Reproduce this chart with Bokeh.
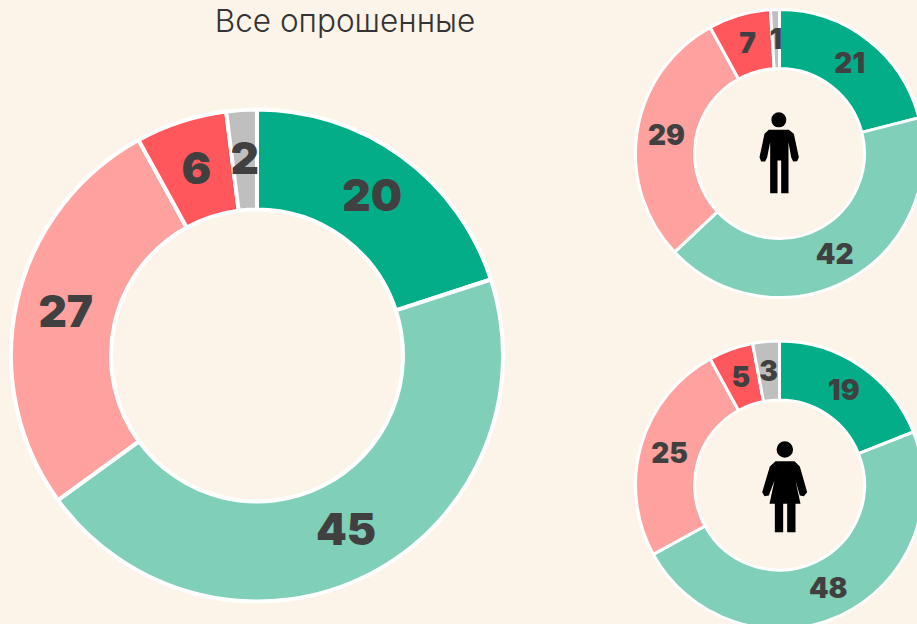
import numpy as np
from bokeh.embed import file_html
from bokeh.resources import INLINE
from bokeh.plotting import figure
from bokeh.models import Range1d, ColumnDataSource
from bokeh.core.properties import value

title = "Все опрошенные"
answers = ["a", "b", "c", "d", "e"]
all_values = [20, 45, 27, 6, 2]
men_values = [21, 42, 29, 7, 1]
women_values = [19, 48, 25, 5, 3]
colors = ["#02AD87", "#7FCFB9", "#FFA29F", "#FF575B", "#BFBFBF"]
BG = "#FDF4E9"
INK = "#404040"
BLACK_FONT = "Inter Black"

W, H = 917, 624
p = figure(width=W, height=H, output_backend="svg", toolbar_location=None,
           x_range=Range1d(0, W), y_range=Range1d(-H, 0),
           background_fill_color=BG, border_fill_color=BG,
           min_border=0, outline_line_color=None)
p.axis.visible = False
p.grid.visible = False


def donut(cx, cy, r_out, r_in, vals, lw, fs, dy):
    v = np.array(vals, dtype=float)
    edges = np.concatenate([[0], np.cumsum(v)]) / v.sum()
    ang = np.pi / 2 - 2 * np.pi * edges
    mid = (ang[:-1] + ang[1:]) / 2
    rl = (r_out + r_in) / 2
    src = ColumnDataSource(dict(
        start=ang[1:], end=ang[:-1], color=colors,
        lx=cx + rl * np.cos(mid), ly=-cy + rl * np.sin(mid) + dy,
        txt=[str(x) for x in vals]))
    p.annular_wedge(x=cx, y=-cy, inner_radius=r_in, outer_radius=r_out,
                    start_angle="start", end_angle="end", fill_color="color",
                    line_color="white", line_width=lw, source=src)
    p.text(x="lx", y="ly", text="txt", source=src, text_align="center",
           text_baseline="middle", text_color=INK,
           text_font=value(BLACK_FONT), text_font_style="bold", text_font_size=fs)


donut(256.5, 355, 246, 146, all_values, 4, "44px", 1.5)
donut(779, 153, 144, 85, men_values, 3, "28px", 0.8)
donut(779, 484.5, 144, 85, women_values, 3, "28px", 0.8)

p.text(x=[344.5], y=[-20], text=[title], text_align="center", text_baseline="middle",
       text_color="#333333", text_font=value("Inter Light"), text_font_size="31.5px")

# pictograms, outlined in pixels of a 3x crop
man_x = [385, 445, 460, 475, 470, 458, 452, 444, 444, 422, 422, 411, 411, 389, 389, 380, 374, 362, 357, 372]
man_y = [388, 388, 400, 470, 482, 483, 470, 425, 578, 578, 480, 480, 578, 578, 425, 470, 483, 483, 470, 400]
woman_x = [405, 462, 478, 500, 490, 478, 465, 480, 465, 465, 440, 440, 428, 428, 403, 403, 387, 402, 385, 372, 365, 388]
woman_y = [392, 392, 408, 485, 497, 495, 450, 520, 520, 605, 605, 520, 520, 605, 605, 520, 520, 450, 495, 497, 485, 408]

p.patch([640 + a / 3 for a in man_x], [-(b / 3) for b in man_y], fill_color="black", line_color=None)
p.patch([640 + a / 3 for a in woman_x], [-(330 + b / 3) for b in woman_y], fill_color="black", line_color=None)
p.scatter(x=[640 + 415 / 3, 640 + 433 / 3], y=[-358 / 3, -(330 + 357 / 3)], size=[15, 16.5],
          fill_color="black", line_color=None)

html = file_html(p, INLINE).replace(
    "<head>", "<head><style>html,body{margin:0;padding:0;overflow:hidden;background:#FDF4E9}</style>", 1)
open("out.html", "w").write(html)
